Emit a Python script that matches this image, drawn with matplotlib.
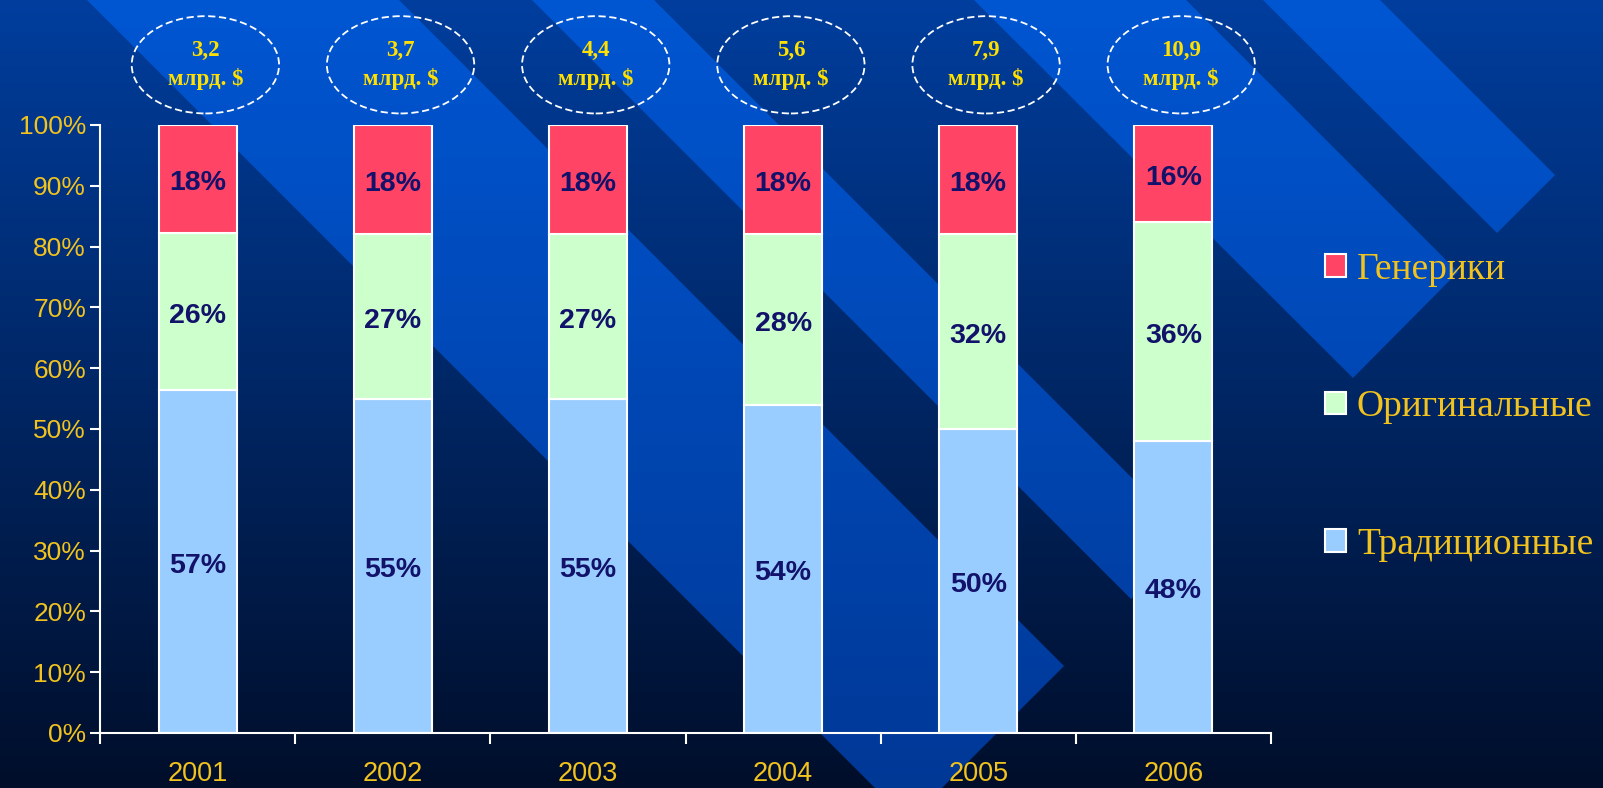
import numpy as np
import matplotlib
matplotlib.use('Agg')
import matplotlib.pyplot as plt
from matplotlib.patches import Ellipse, Polygon

# data
years = ['2001', '2002', '2003', '2004', '2005', '2006']
traditional = [57, 55, 55, 54, 50, 48]
original = [26, 27, 27, 28, 32, 36]
generic = [18, 18, 18, 18, 18, 16]
market = ['3,2', '3,7', '4,4', '5,6', '7,9', '10,9']  # bln $
series_names = ['Традиционные', 'Оригинальные', 'Генерики']

W, H = 1603, 788
fig = plt.figure(figsize=(W / 100, H / 100), dpi=100)

# background: dark blue gradient with diagonal light stripes (slide template)
bg = fig.add_axes([0, 0, 1, 1], zorder=-10)
bg.set_xlim(0, W)
bg.set_ylim(H, 0)
bg.axis('off')


def vgrad(top, bottom):
    t = np.linspace(0, 1, H)[:, None, None]
    top = np.array(top) / 255
    bottom = np.array(bottom) / 255
    return np.repeat(top + (bottom - top) * t, 2, axis=1)


bg.imshow(vgrad((0, 62, 158), (0, 14, 42)), extent=[0, W, H, 0], aspect='auto')
stripes = [[(87, 0), (399, 0), (1064, 666), (942, 788), (875, 788)],
           [(532, 0), (654, 0), (1192, 538), (1131, 599)],
           [(974, 0), (1186, 0), (1458, 272), (1353, 378)],
           [(1263, 0), (1380, 0), (1555, 175), (1497, 233)]]
stripe_img = vgrad((0, 86, 210), (0, 56, 150))
for pts in stripes:
    poly = Polygon(pts, closed=True, facecolor='none', edgecolor='none')
    bg.add_patch(poly)
    im = bg.imshow(stripe_img, extent=[0, W, H, 0], aspect='auto')
    im.set_clip_path(poly)
bg.set_xlim(0, W)
bg.set_ylim(H, 0)

# main chart
ax = fig.add_axes([100 / W, 55 / H, 1171 / W, 608 / H])
ax.patch.set_alpha(0)

x = np.arange(len(years))
colors = ['#99ccff', '#ccffcc', '#ff4466']
raw = np.array([traditional, original, generic], dtype=float)
share = raw / raw.sum(axis=0) * 100

bottom = np.zeros(len(years))
containers = []
for vals, rv, name, c in zip(share, raw, series_names, colors):
    bars = ax.bar(x, vals, 0.4, bottom=bottom, color=c, edgecolor='white',
                  linewidth=1.5, label=name)
    anns = ax.bar_label(bars, labels=[f'{v:.0f}%' for v in rv], label_type='center',
                        fontsize=20.5, fontweight='bold', color='#12126a',
                        family='Liberation Sans')
    for a in anns:
        a.xyann = (0, -3)
    containers.append(bars)
    bottom += vals

ax.set_xlim(-0.5, 5.5)
ax.set_ylim(0, 100)

yellow = '#f2c21e'
ax.set_yticks(range(0, 101, 10))
ax.set_yticklabels([f'{v}%' for v in range(0, 101, 10)])
ax.tick_params(axis='y', colors='white', labelcolor=yellow, length=7, width=1.5,
               pad=3, labelsize=19)
ax.set_xticks(x)
ax.set_xticklabels(years)
ax.tick_params(axis='x', which='major', length=0, pad=20, labelcolor=yellow,
               labelsize=19.5)
ax.set_xticks(np.arange(-0.5, 6, 1), minor=True)
ax.tick_params(axis='x', which='minor', colors='white', length=8, width=1.5)
for lab in ax.get_xticklabels() + ax.get_yticklabels():
    lab.set_family('Liberation Sans')

for side in ['top', 'right']:
    ax.spines[side].set_visible(False)
for side in ['left', 'bottom']:
    ax.spines[side].set_color('white')
    ax.spines[side].set_linewidth(1.5)

# market volume in the ovals above the bars
for i, m in enumerate(market):
    e = Ellipse((i + 0.04, 109.9), 0.755, 16.0, fill=False, edgecolor='white',
                linewidth=1.3, linestyle=(0, (4, 2)), clip_on=False)
    ax.add_patch(e)
    ax.text(i + 0.04, 109.9, f'{m}\nмлрд. $', ha='center', va='center',
            fontsize=16.5, fontweight='bold', color='#ffe000',
            family='Liberation Serif', linespacing=1.4, clip_on=False)

leg = ax.legend(handles=containers[::-1], loc='center left',
                bbox_to_anchor=(1325 / W, 1 - 407 / H),
                bbox_transform=fig.transFigure, frameon=False,
                prop={'family': 'Liberation Serif', 'size': 27},
                labelcolor=yellow, handlelength=0.55, handleheight=0.55,
                handletextpad=0.3, labelspacing=2.75, borderpad=0,
                borderaxespad=0)

fig.savefig('out.png', dpi=100)
